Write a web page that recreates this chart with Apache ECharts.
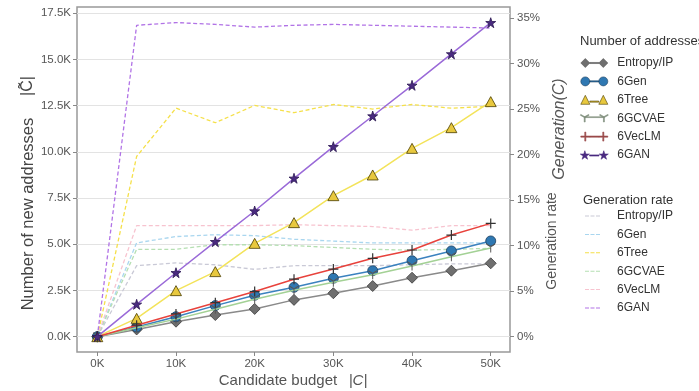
<!DOCTYPE html>
<html>
<head>
<meta charset="utf-8">
<script src="https://cdn.jsdelivr.net/npm/echarts@6/dist/echarts.min.js"></script>
<style>
html,body{margin:0;padding:0;background:#fff;}
#chart{width:699px;height:391px;}
</style>
</head>
<body>
<div id="chart"></div>
<script>
// ---- data ----
var budget = [0, 5000, 10000, 15000, 20000, 25000, 30000, 35000, 40000, 45000, 50000];
var methods = ['Entropy/IP', '6Gen', '6Tree', '6GCVAE', '6VecLM', '6GAN'];

// number of new addresses
var cntEntropy = [0, 390, 810, 1170, 1500, 1990, 2350, 2740, 3190, 3570, 3970];
var cnt6Gen    = [0, 520, 1080, 1680, 2240, 2670, 3160, 3570, 4110, 4640, 5180];
var cnt6Tree   = [0, 990, 2490, 3520, 5050, 6170, 7630, 8750, 10190, 11310, 12720];
var cnt6GCVAE  = [0, 480, 950, 1480, 2030, 2510, 2940, 3350, 3820, 4330, 4800];
var cnt6VecLM  = [0, 620, 1230, 1840, 2440, 3110, 3660, 4240, 4690, 5500, 6130];
var cnt6GAN    = [0, 1750, 3460, 5140, 6800, 8570, 10280, 11940, 13600, 15300, 16990];

// generation rate (%)
var rateEntropy = [0, 7.8, 8.1, 7.9, 7.4, 7.8, 7.8, 7.8, 7.9, 8.0, 8.0];
var rate6Gen    = [0, 10.3, 11.0, 11.2, 11.1, 10.7, 10.5, 10.3, 10.3, 10.3, 10.3];
var rate6Tree   = [0, 19.8, 25.1, 23.5, 25.4, 24.6, 25.5, 25.0, 25.5, 25.1, 25.3];
var rate6GCVAE  = [0, 9.6, 9.6, 10.1, 10.1, 10.0, 9.8, 9.6, 9.5, 9.6, 9.7];
var rate6VecLM  = [0, 12.2, 12.2, 12.2, 12.2, 12.3, 12.2, 12.1, 11.7, 12.2, 12.2];
var rate6GAN    = [0, 34.2, 34.5, 34.3, 34.0, 34.2, 34.3, 34.2, 34.1, 34.0, 33.9];

var xTicks = [0, 10000, 20000, 30000, 40000, 50000];
var yTicks = [0, 2500, 5000, 7500, 10000, 12500, 15000, 17500];
var rTicks = [0, 5, 10, 15, 20, 25, 30, 35];

// ---- build ----
var FONT = 'Liberation Sans, Arial, sans-serif';
function pairs(xs, ys) { return xs.map(function (x, i) { return [x, ys[i]]; }); }

var STAR = 'path://M10,0 L12.23,6.93 L19.51,6.91 L13.61,11.17 L15.88,18.09 L10,13.8 L4.12,18.09 L6.39,11.17 L0.49,6.91 L7.77,6.93 Z';
var PLUS = 'path://M4.4,0h1.2v4.4h4.4v1.2h-4.4v4.4h-1.2v-4.4h-4.4v-1.2h4.4z';
var TRI_DOWN = 'path://M4.5,5 L4.5,10 L5.5,10 L5.5,5 Z M5.25,4.57 L0.92,2.07 L0.42,2.93 L4.75,5.43 Z M4.75,4.57 L9.08,2.07 L9.58,2.93 L5.25,5.43 Z';

var counts = [cntEntropy, cnt6Gen, cnt6Tree, cnt6GCVAE, cnt6VecLM, cnt6GAN];
var rates = [rateEntropy, rate6Gen, rate6Tree, rate6GCVAE, rate6VecLM, rate6GAN];

var cntStyle = [
  {line: '#8a8a8a', fill: '#6f6f6f', border: '#3a3a3a', symbol: 'diamond', size: 11},
  {line: '#3b82bf', fill: '#2f78b2', border: '#1d3f5e', symbol: 'circle', size: 10},
  {line: '#f3e35a', fill: '#e8c83e', border: '#4a3d00', symbol: 'triangle', size: [11, 10]},
  {line: '#a3d195', fill: '#555555', border: '#555555', symbol: TRI_DOWN, size: 9},
  {line: '#e8423c', fill: '#333333', border: '#333333', symbol: PLUS, size: 10},
  {line: '#9a6ad8', fill: '#4a2a80', border: '#2a1650', symbol: STAR, size: 10}
];
var rateColors = ['#c9c9d6', '#a9d6ef', '#f5e04a', '#b5dfb2', '#f7c3cf', '#b173e6'];

var legendIcons = [
  'path://M0,5L5,0L10,5L5,10Z M10,4.4H20V5.6H10Z M20,5L25,0L30,5L25,10Z',
  'path://M0,5 A5,5 0 1,1 10,5 A5,5 0 1,1 0,5 Z M10,4.4H20V5.6H10Z M20,5 A5,5 0 1,1 30,5 A5,5 0 1,1 20,5 Z',
  'path://M0,10L5,0L10,10Z M10,6.4H20V7.6H10Z M20,10L25,0L30,10Z',
  'path://M4.5,5 L4.5,10 L5.5,10 L5.5,5 Z M5.25,4.57 L0.92,2.07 L0.42,2.93 L4.75,5.43 Z M4.75,4.57 L9.08,2.07 L9.58,2.93 L5.25,5.43 Z M5,4.6H25V5.4H5Z M24.5,5 L24.5,10 L25.5,10 L25.5,5 Z M25.25,4.57 L20.92,2.07 L20.42,2.93 L24.75,5.43 Z M24.75,4.57 L29.08,2.07 L29.58,2.93 L25.25,5.43 Z',
  'path://M4.4,0h1.2v4.4h4.4v1.2h-4.4v4.4h-1.2v-4.4h-4.4v-1.2h4.4z M10,4.4H20V5.6H10Z M24.4,0h1.2v4.4h4.4v1.2h-4.4v4.4h-1.2v-4.4h-4.4v-1.2h4.4z',
  'path://M5,0 L6.1,3.5 L9.8,3.5 L6.8,5.6 L7.9,9 L5,6.9 L2.1,9 L3.2,5.6 L0.2,3.5 L3.9,3.5 Z M10,4.4H20V5.6H10Z M25,0 L26.1,3.5 L29.8,3.5 L26.8,5.6 L27.9,9 L25,6.9 L22.1,9 L23.2,5.6 L20.2,3.5 L23.9,3.5 Z'
];
var legendIconColors = [
  {color: '#6f6f6f', borderColor: '#555555'},
  {color: '#2f78b2', borderColor: '#1d3f5e'},
  {color: '#e8c83e', borderColor: '#4a3d00'},
  {color: '#7f8f7c', borderColor: '#7f8f7c'},
  {color: '#9b4a4a', borderColor: '#9b4a4a'},
  {color: '#4a2a80', borderColor: '#4a2a80'}
];

var series = [];
methods.forEach(function (m, i) {
  series.push({
    name: m + '\u200b',
    type: 'line',
    xAxisIndex: 0, yAxisIndex: 1,
    data: pairs(budget, rates[i]),
    showSymbol: false, symbol: 'none',
    lineStyle: {color: rateColors[i], width: 1.3, type: [4, 2.5]},
    itemStyle: {color: rateColors[i]},
    z: 2, silent: true, animation: false
  });
});
methods.forEach(function (m, i) {
  var s = cntStyle[i];
  series.push({
    name: m,
    type: 'line',
    xAxisIndex: 0, yAxisIndex: 0,
    data: pairs(budget, counts[i]),
    symbol: s.symbol, symbolSize: s.size, showSymbol: true,
    lineStyle: {color: s.line, width: 1.5},
    itemStyle: {color: s.fill, borderColor: s.border, borderWidth: (i === 3 || i === 4) ? 0 : 0.8},
    z: 3 + i, silent: true, animation: false
  });
});

var option = {
  backgroundColor: '#ffffff',
  animation: false,
  textStyle: {fontFamily: FONT},
  grid: {left: 77, right: 189, top: 7, bottom: 39, show: true, borderColor: '#999999', borderWidth: 1.5, backgroundColor: 'transparent'},
  xAxis: [{
    type: 'value', min: -2580, max: 52450,
    axisLine: {show: false, onZero: false},
    axisTick: {show: true, inside: false, length: 4, lineStyle: {color: '#888'}, customValues: xTicks},
    axisLabel: {margin: 6, color: '#555', fontSize: 11.5, fontFamily: FONT, customValues: xTicks,
      formatter: function (v) { return (v / 1000) + 'K'; }},
    splitLine: {show: false}
  }],
  yAxis: [{
    type: 'value', position: 'left', min: -830, max: 17840,
    axisLine: {show: false, onZero: false},
    axisTick: {show: true, inside: false, length: 4, lineStyle: {color: '#888'}, customValues: yTicks},
    axisLabel: {margin: 6, color: '#555', fontSize: 11.5, fontFamily: FONT, customValues: yTicks,
      formatter: function (v) { return (v / 1000).toFixed(1) + 'K'; }},
    splitLine: {show: true, lineStyle: {color: '#e3e3e3', width: 1}}
  }, {
    type: 'value', position: 'right', min: -1.68, max: 36.21,
    axisLine: {show: false, onZero: false},
    axisTick: {show: true, inside: false, length: 4, lineStyle: {color: '#888'}, customValues: rTicks},
    axisLabel: {margin: 7, color: '#555', fontSize: 11.5, fontFamily: FONT, customValues: rTicks,
      formatter: function (v) { return v + '%'; }},
    splitLine: {show: false}
  }],
  legend: [{
    orient: 'vertical', left: 580, top: 56, padding: 0,
    itemWidth: 28, itemHeight: 9, itemGap: 4.4, selectedMode: false,
    textStyle: {fontSize: 12, color: '#333', lineHeight: 14, fontFamily: FONT, padding: [0, 0, 0, 4]},
    data: methods.map(function (m, i) {
      return {name: m, icon: legendIcons[i], itemStyle: {color: legendIconColors[i].color, borderColor: legendIconColors[i].borderColor, borderWidth: 0.6}};
    })
  }, {
    orient: 'vertical', left: 585, top: 209, padding: 0,
    itemWidth: 15, itemHeight: 1.5, itemGap: 4.4, selectedMode: false,
    textStyle: {fontSize: 12, color: '#333', lineHeight: 14, fontFamily: FONT, padding: [0, 0, 0, 12]},
    formatter: function (n) { return n.replace('\u200b', ''); },
    data: methods.map(function (m, i) {
      return {name: m + '\u200b', icon: 'path://M0,0h4v1h-4z M5.5,0h4v1h-4z M11,0h4v1h-4z', itemStyle: {color: rateColors[i], borderWidth: 0}};
    })
  }],
  graphic: [
    {type: 'text', left: 580, top: 35, style: {text: 'Number of addresses', fontSize: 13, fill: '#333', font: '13px ' + FONT}},
    {type: 'text', left: 583, top: 194, style: {text: 'Generation rate', fontSize: 13, fill: '#333', font: '13px ' + FONT}},
    {type: 'text', x: 28, y: 214, rotation: Math.PI / 2,
      style: {text: 'Number of new addresses', font: '16.5px ' + FONT, fill: '#444', textAlign: 'center', textVerticalAlign: 'middle'}},
    {type: 'text', x: 28, y: 86, rotation: Math.PI / 2,
      style: {text: '|C\u0303|', font: '16px ' + FONT, fill: '#444', textAlign: 'center', textVerticalAlign: 'middle'}},
    {type: 'text', x: 278, y: 381,
      style: {text: 'Candidate budget', font: '15px ' + FONT, fill: '#555', textAlign: 'center', textVerticalAlign: 'middle'}},
    {type: 'text', x: 358, y: 381,
      style: {text: '|C|', font: 'italic 15px ' + FONT, fill: '#555', textAlign: 'center', textVerticalAlign: 'middle'}},
    {type: 'text', x: 552, y: 241, rotation: Math.PI / 2,
      style: {text: 'Generation rate', font: '14px ' + FONT, fill: '#555', textAlign: 'center', textVerticalAlign: 'middle'}},
    {type: 'text', x: 560, y: 129, rotation: Math.PI / 2,
      style: {text: 'Generation(C)', font: 'italic 16px ' + FONT, fill: '#555', textAlign: 'center', textVerticalAlign: 'middle'}}
  ],
  series: series
};

var chart = echarts.init(document.getElementById('chart'), null, {renderer: 'canvas'});
chart.setOption(option);
</script>
</body>
</html>
